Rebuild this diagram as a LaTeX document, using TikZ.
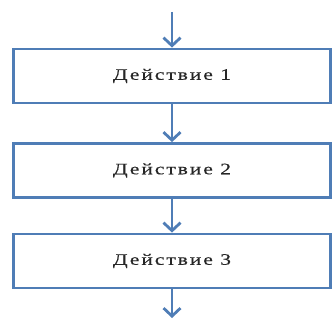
\documentclass[tikz,border=0pt]{standalone}
\usepackage{fontspec}
\setmainfont{Liberation Serif}
\newfontfamily\boxfont[FakeStretch=1.35,LetterSpace=12,FakeBold=0.3]{Liberation Serif}
\usetikzlibrary{arrows.meta}
\definecolor{flowblue}{RGB}{79,125,182}
\tikzset{
  actbox/.style={draw=flowblue, line width=2.8pt, fill=white, minimum width=317pt, minimum height=54pt, inner sep=0pt, font=\boxfont\fontsize{16pt}{19pt}\selectfont, text=black!85},
  flowarrow/.style={draw=flowblue, line width=2.8pt, -{Straight Barb[length=8pt,width=17pt,line width=2.8pt]}}
}
\begin{document}
\begin{tikzpicture}
\useasboundingbox (0pt,0pt) rectangle (334pt,-320pt);
\node[actbox] (a1) at (172pt,-76pt) {Действие 1};
\node[actbox] (a2) at (172pt,-170.5pt) {Действие 2};
\node[actbox] (a3) at (172pt,-261pt) {Действие 3};
\coordinate (start) at (172pt,-12pt);
\coordinate (end) at (172pt,-318pt);
\draw[flowarrow] (start) -- (a1.north);
\draw[flowarrow] (a1.south) -- (a2.north);
\draw[flowarrow] (a2.south) -- (a3.north);
\draw[flowarrow] (a3.south) -- (end);
\end{tikzpicture}
\end{document}
